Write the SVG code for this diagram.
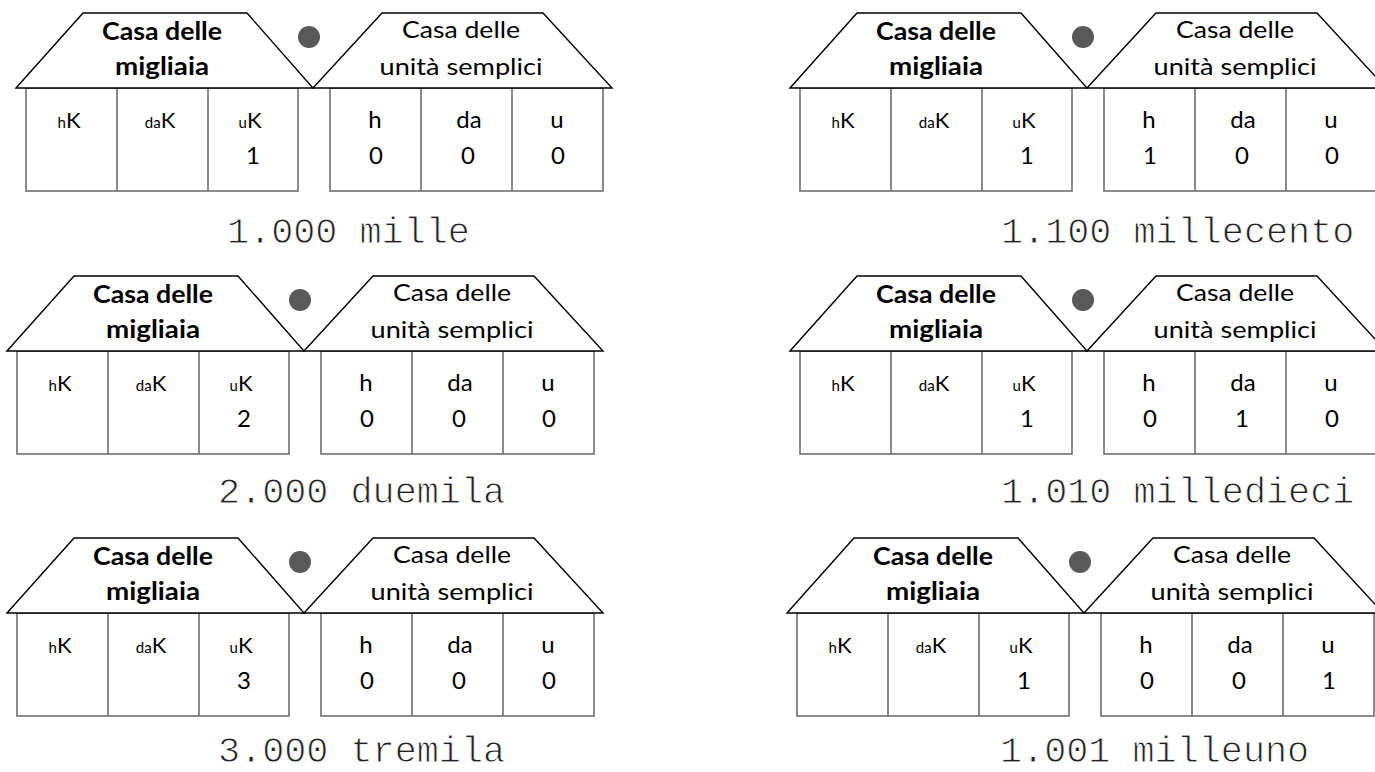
<svg xmlns="http://www.w3.org/2000/svg" xmlns:xlink="http://www.w3.org/1999/xlink" width="1375" height="772" viewBox="0 0 1375 772">
<style>
  .bg { fill: #ffffff; }
  .roof { fill: #ffffff; stroke: #000000; stroke-width: 1.4; stroke-linejoin: miter; }
  .box { fill: #ffffff; stroke: #6e6e6e; stroke-width: 1.6; }
  .div { stroke: #6e6e6e; stroke-width: 1.6; }
  .dot { fill: #595959; }
  .tb { font-family: Lato, "Open Sans", sans-serif; font-weight: 700; font-size: 24px; fill: #000; text-anchor: middle; }
  .tr { font-family: Lato, "Open Sans", sans-serif; font-weight: 400; font-size: 24px; fill: #000; text-anchor: middle; }
  .cell { font-family: Lato, "Open Sans", sans-serif; font-size: 22px; fill: #000; text-anchor: middle; }
  .sm { font-size: 15px; }
  .big { font-family: Lato, "Open Sans", sans-serif; font-size: 24px; fill: #000; text-anchor: middle; }
  .cap { font-family: "Liberation Mono", "Courier New", monospace; font-size: 36.8px; fill: #222; stroke: #ffffff; stroke-width: 0.9; paint-order: normal; }
</style>
<defs>
  <g id="frame">
    <rect class="box" x="26" y="88" width="272" height="103"/>
    <line class="div" x1="117" y1="88" x2="117" y2="191"/>
    <line class="div" x1="208" y1="88" x2="208" y2="191"/>
    <rect class="box" x="330" y="88" width="273" height="103"/>
    <line class="div" x1="421" y1="88" x2="421" y2="191"/>
    <line class="div" x1="512" y1="88" x2="512" y2="191"/>
    <path class="roof" d="M16,88 L83,13 L247,13 L313,88 Z"/>
    <path class="roof" d="M313,88 L382,13 L543,13 L612,88 Z"/>
    <circle class="dot" cx="309" cy="37" r="11"/>
    <text class="tb" x="162" y="40" textLength="120" lengthAdjust="spacingAndGlyphs">Casa delle</text>
    <text class="tb" x="162" y="75" textLength="94" lengthAdjust="spacingAndGlyphs">migliaia</text>
    <text class="tr" x="461" y="38" textLength="118" lengthAdjust="spacingAndGlyphs">Casa delle</text>
    <text class="tr" x="461" y="75" textLength="163" lengthAdjust="spacingAndGlyphs">unità semplici</text>
    <text class="cell" x="69" y="128"><tspan class="sm">h</tspan>K</text>
    <text class="cell" x="160" y="128"><tspan class="sm">da</tspan>K</text>
    <text class="cell" x="250" y="128"><tspan class="sm">u</tspan>K</text>
    <text class="big" x="375" y="128">h</text>
    <text class="big" x="469" y="128">da</text>
    <text class="big" x="557" y="128">u</text>
  </g>
</defs>
<rect class="bg" x="0" y="0" width="1375" height="772"/>
<g id="connectors"></g>
<g id="house-1000" transform="translate(0,0)">
  <use xlink:href="#frame"/>
  <text class="big" x="253" y="164">1</text>
  <text class="big" x="376" y="164">0</text>
  <text class="big" x="468" y="164">0</text>
  <text class="big" x="558" y="164">0</text>
  <text class="cap" x="227" y="243">1.000 mille</text>
</g>
<g id="house-1100" transform="translate(774,0)">
  <use xlink:href="#frame"/>
  <text class="big" x="253" y="164">1</text>
  <text class="big" x="376" y="164">1</text>
  <text class="big" x="468" y="164">0</text>
  <text class="big" x="558" y="164">0</text>
  <text class="cap" x="227" y="243">1.100 millecento</text>
</g>
<g id="house-2000" transform="translate(-9,263)">
  <use xlink:href="#frame"/>
  <text class="big" x="253" y="164">2</text>
  <text class="big" x="376" y="164">0</text>
  <text class="big" x="468" y="164">0</text>
  <text class="big" x="558" y="164">0</text>
  <text class="cap" x="227" y="240">2.000 duemila</text>
</g>
<g id="house-1010" transform="translate(774,263)">
  <use xlink:href="#frame"/>
  <text class="big" x="253" y="164">1</text>
  <text class="big" x="376" y="164">0</text>
  <text class="big" x="468" y="164">1</text>
  <text class="big" x="558" y="164">0</text>
  <text class="cap" x="227" y="240">1.010 milledieci</text>
</g>
<g id="house-3000" transform="translate(-9,525)">
  <use xlink:href="#frame"/>
  <text class="big" x="253" y="164">3</text>
  <text class="big" x="376" y="164">0</text>
  <text class="big" x="468" y="164">0</text>
  <text class="big" x="558" y="164">0</text>
  <text class="cap" x="227" y="237">3.000 tremila</text>
</g>
<g id="house-1001" transform="translate(771,525)">
  <use xlink:href="#frame"/>
  <text class="big" x="253" y="164">1</text>
  <text class="big" x="376" y="164">0</text>
  <text class="big" x="468" y="164">0</text>
  <text class="big" x="558" y="164">1</text>
  <text class="cap" x="229" y="237">1.001 milleuno</text>
</g>
</svg>
